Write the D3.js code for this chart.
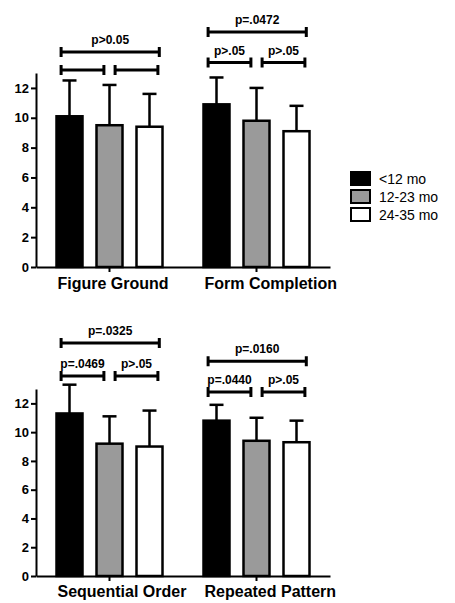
<!DOCTYPE html>
<html>
<head>
<meta charset="utf-8">
<script src="https://cdn.jsdelivr.net/npm/d3@7"></script>
<style>
  body { margin: 0; background: #fff; }
  svg { display: block; font-family: "Liberation Sans", Arial, sans-serif; }
  .axis path, .axis line { stroke: #000; stroke-width: 2; }
  .axis text { font-weight: bold; fill: #000; }
</style>
</head>
<body>
<script>
'use strict';
// subtests (x categories)
const topTests = ['Figure Ground', 'Form Completion'];
const bottomTests = ['Sequential Order', 'Repeated Pattern'];
// age groups (legend)
const ageGroups = ['<12 mo', '12-23 mo', '24-35 mo'];
const ageColors = ['#000000', '#9a9a9a', '#ffffff'];
// means and SD, one row per subtest
const topMeans = [[10.1, 9.5, 9.4], [10.9, 9.8, 9.1]];
const topSD = [[2.4, 2.7, 2.2], [1.8, 2.2, 1.7]];
const bottomMeans = [[11.3, 9.2, 9.0], [10.8, 9.4, 9.3]];
const bottomSD = [[2.0, 1.9, 2.5], [1.1, 1.6, 1.5]];
const yTicks = [0, 2, 4, 6, 8, 10, 12];
// significance brackets: test index, which bars, label, height in score units
const topBrackets = [
  {test: 0, span: 'all', label: 'p>0.05', level: 14.4},
  {test: 0, span: 'ab', label: '', level: 13.2},
  {test: 0, span: 'bc', label: '', level: 13.2},
  {test: 1, span: 'all', label: 'p=.0472', level: 15.75},
  {test: 1, span: 'ab', label: 'p>.05', level: 13.7},
  {test: 1, span: 'bc', label: 'p>.05', level: 13.7}
];
const bottomBrackets = [
  {test: 0, span: 'all', label: 'p=.0325', level: 16.2},
  {test: 0, span: 'ab', label: 'p=.0469', level: 13.9},
  {test: 0, span: 'bc', label: 'p>.05', level: 13.9},
  {test: 1, span: 'all', label: 'p=.0160', level: 14.93},
  {test: 1, span: 'ab', label: 'p=.0440', level: 12.8},
  {test: 1, span: 'bc', label: 'p>.05', level: 12.8}
];

const svg = d3.select(document.body).append('svg')
  .attr('width', 455).attr('height', 603);

drawPanel(svg, topTests, topMeans, topSD, topBrackets, 267, 73, 22);
drawPanel(svg, bottomTests, bottomMeans, bottomSD, bottomBrackets, 576, 389, 21);
drawLegend(svg);

function drawPanel(root, tests, means, sds, brackets, yBottom, yTop, labelDrop){
  const g = root.append('g');
  const x = d3.scaleBand().domain(tests).range([36, 330]);
  const x1 = d3.scaleBand().domain(ageGroups).range([-60, 60])
    .paddingInner(0.3).paddingOuter(0.15);
  const y = d3.scaleLinear().domain([0, 13]).range([yBottom, yTop]);
  const bw = x1.bandwidth();
  const center = t => x(t) + x.bandwidth() / 2;

  // bars
  tests.forEach(function(t, ti){
    const row = ageGroups.map((a, ai) => ({age: a, m: means[ti][ai], sd: sds[ti][ai], c: ageColors[ai]}));
    const cg = g.append('g').attr('transform', 'translate(' + center(t) + ',0)');
    // error bars (upper only)
    cg.selectAll('line.err').data(row).enter().append('line')
      .attr('x1', d => x1(d.age) + bw / 2).attr('x2', d => x1(d.age) + bw / 2)
      .attr('y1', d => y(d.m)).attr('y2', d => y(d.m + d.sd))
      .attr('stroke', '#000').attr('stroke-width', 2.5);
    cg.selectAll('line.cap').data(row).enter().append('line')
      .attr('x1', d => x1(d.age) + bw / 2 - 7).attr('x2', d => x1(d.age) + bw / 2 + 7)
      .attr('y1', d => y(d.m + d.sd)).attr('y2', d => y(d.m + d.sd))
      .attr('stroke', '#000').attr('stroke-width', 2.5);
    cg.selectAll('rect').data(row).enter().append('rect')
      .attr('x', d => x1(d.age) + 1)
      .attr('width', bw - 2)
      .attr('y', d => y(d.m))
      .attr('height', d => y(0) - y(d.m))
      .attr('fill', d => d.c)
      .attr('stroke', '#000').attr('stroke-width', 2.5);
  });

  // axes
  const ya = g.append('g').attr('class', 'axis')
    .attr('transform', 'translate(36,0)')
    .call(d3.axisLeft(y).tickValues(yTicks).tickSize(5).tickSizeOuter(0).tickPadding(2));
  ya.selectAll('text').style('font-size', '13px');
  const xa = g.append('g').attr('class', 'axis')
    .attr('transform', 'translate(0,' + y(0) + ')')
    .call(d3.axisBottom(x).tickSize(5).tickSizeOuter(0));
  // labels start under the first bar of each group
  xa.selectAll('text')
    .style('font-size', '16px')
    .attr('text-anchor', 'start')
    .attr('x', x1(ageGroups[0]) + 2)
    .attr('y', labelDrop)
    .attr('dy', null);

  // brackets
  const ends = {
    all: [x1(ageGroups[0]) + 0.2 * bw, x1(ageGroups[2]) + 0.85 * bw],
    ab: [x1(ageGroups[0]) + 0.2 * bw, x1(ageGroups[1]) + 0.3 * bw],
    bc: [x1(ageGroups[1]) + 0.7 * bw, x1(ageGroups[2]) + 0.8 * bw]
  };
  const bg = g.selectAll('g.bracket').data(brackets).enter().append('g')
    .attr('class', 'bracket')
    .attr('transform', d => 'translate(' + center(tests[d.test]) + ',' + y(d.level) + ')');
  bg.append('line')
    .attr('x1', d => ends[d.span][0]).attr('x2', d => ends[d.span][1])
    .attr('stroke', '#000').attr('stroke-width', 3);
  bg.append('path')
    .attr('d', d => 'M' + ends[d.span][0] + ',-5V5M' + ends[d.span][1] + ',-5V5')
    .attr('stroke', '#000').attr('stroke-width', 3);
  bg.append('text')
    .attr('x', d => (ends[d.span][0] + ends[d.span][1]) / 2)
    .attr('y', -8)
    .attr('text-anchor', 'middle')
    .attr('font-size', '12px').attr('font-weight', 'bold')
    .text(d => d.label);
}

function drawLegend(root){
  const lg = root.append('g').attr('transform', 'translate(351,172)');
  const item = lg.selectAll('g').data(ageGroups).enter().append('g')
    .attr('transform', (d, i) => 'translate(0,' + i * 18 + ')');
  item.append('rect')
    .attr('width', 19).attr('height', 13)
    .attr('fill', (d, i) => ageColors[i])
    .attr('stroke', '#000').attr('stroke-width', 2);
  item.append('text')
    .attr('x', 28).attr('y', 11.5)
    .attr('font-size', '14px')
    .text(d => d);
}
</script>
</body>
</html>
